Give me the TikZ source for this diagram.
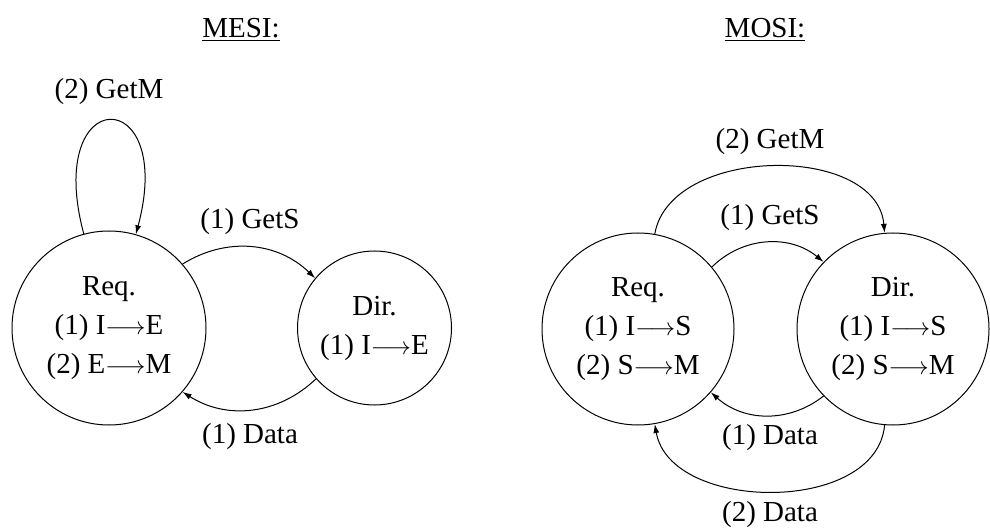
\documentclass[tikz,border=0pt]{standalone}
\usepackage{fontspec,tikz}
\setmainfont{Liberation Serif}
\usetikzlibrary{arrows.meta}

\begin{document}
\begin{tikzpicture}[x=1pt,y=-1pt,
  state/.style={circle,draw,line width=1pt,inner sep=0pt,align=center,font=\fontsize{29}{39}\selectfont},
  msg/.style={line width=1pt,-{Latex[length=9pt,width=6pt]}},
  lbl/.style={inner sep=0pt,font=\fontsize{29}{34}\selectfont}]
\path[use as bounding box] (0,0) rectangle (990,529);
% MESI
\node[lbl,anchor=base] (mesi) at (241,38) {\underline{MESI:}};
\node[state,minimum size=194pt] (mreq) at (109,328) {Req.\\(1) I$\longrightarrow$E\\(2) E$\longrightarrow$M};
\node[state,minimum size=154pt] (mdir) at (374.5,328) {Dir.\\(1) I$\longrightarrow$E};
\draw[msg] (mreq.105) .. controls +(105:157pt) and +(75:157pt) .. (mreq.74);
\draw[msg] (mreq.41) to[bend left=38] (mdir.140);
\draw[msg] (mdir.221) to[bend left=38] (mreq.319);
\node[lbl] (mgetm) at (109,92) {(2) GetM};
\node[lbl] (mgets) at (250,222) {(1) GetS};
\node[lbl] (mdata) at (250,437) {(1) Data};
% MOSI
\node[lbl,anchor=base] (mosi) at (765,38) {\underline{MOSI:}};
\node[state,minimum size=192pt] (qreq) at (638,329) {Req.\\(1) I$\longrightarrow$S\\(2) S$\longrightarrow$M};
\node[state,minimum size=192pt] (qdir) at (893,329) {Dir.\\(1) I$\longrightarrow$S\\(2) S$\longrightarrow$M};
\draw[msg] (qreq.80) to[out=80,in=95,looseness=1] (qdir.95);
\draw[msg] (qreq.40) to[bend left=42] (qdir.136);
\draw[msg] (qdir.224) to[bend left=40] (qreq.319);
\draw[msg] (qdir.265) to[out=265,in=280,looseness=1] (qreq.280);
\node[lbl] (qgetm) at (770,142) {(2) GetM};
\node[lbl] (qgets) at (770,218) {(1) GetS};
\node[lbl] (qdata1) at (770,438) {(1) Data};
\node[lbl] (qdata2) at (770,515) {(2) Data};
\end{tikzpicture}
\end{document}
